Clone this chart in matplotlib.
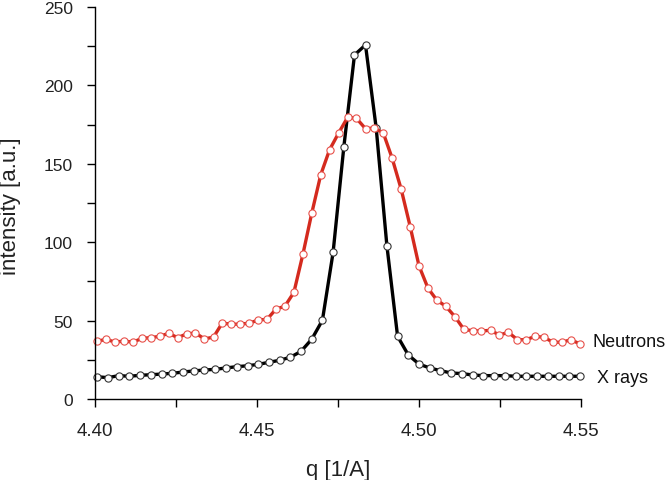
import matplotlib
matplotlib.use('Agg')
import matplotlib.pyplot as plt
from matplotlib.ticker import MultipleLocator

plt.rcParams['font.family'] = ['Liberation Sans', 'DejaVu Sans']

# X rays (black) data
q_xray = [4.4007, 4.4040, 4.4073, 4.4106, 4.4139, 4.4173, 4.4206, 4.4239, 4.4272, 4.4305,
          4.4338, 4.4371, 4.4404, 4.4437, 4.4471, 4.4504, 4.4537, 4.4570, 4.4603, 4.4636,
          4.4669, 4.4702, 4.4735, 4.4768, 4.4801, 4.4835, 4.4868, 4.4901, 4.4934, 4.4967,
          4.5000, 4.5033, 4.5066, 4.5099, 4.5133, 4.5166, 4.5199, 4.5232, 4.5265, 4.5298,
          4.5331, 4.5364, 4.5397, 4.5431, 4.5464, 4.5497]
i_xray = [14.2, 13.6, 14.9, 14.5, 15.1, 15.5, 15.9, 16.4, 17.2, 17.9,
          18.5, 18.9, 19.8, 20.6, 21.2, 22.1, 23.4, 24.7, 26.6, 30.4,
          38.1, 50.2, 93.5, 160.5, 219.4, 225.8, 172.8, 97.8, 40.0, 28.1,
          22.3, 19.8, 18.1, 16.6, 16.2, 15.3, 14.9, 14.9, 14.9, 14.5,
          14.5, 14.5, 14.5, 14.5, 14.5, 14.5]

# Neutrons (red) data
q_neut = [4.4007, 4.4035, 4.4062, 4.4090, 4.4117, 4.4145, 4.4173, 4.4200, 4.4228, 4.4255,
          4.4283, 4.4310, 4.4338, 4.4366, 4.4393, 4.4421, 4.4448, 4.4476, 4.4504, 4.4531,
          4.4559, 4.4586, 4.4614, 4.4642, 4.4669, 4.4697, 4.4724, 4.4752, 4.4780, 4.4807,
          4.4835, 4.4862, 4.4890, 4.4917, 4.4945, 4.4973, 4.5000, 4.5028, 4.5055, 4.5083,
          4.5111, 4.5138, 4.5166, 4.5193, 4.5221, 4.5248, 4.5276, 4.5304, 4.5331, 4.5359,
          4.5386, 4.5414, 4.5442, 4.5469, 4.5497]
i_neut = [36.8, 38.1, 36.2, 37.0, 36.2, 38.7, 39.1, 40.0, 41.9, 39.1,
          41.5, 42.1, 38.3, 39.5, 48.5, 47.6, 47.8, 48.3, 50.4, 50.8,
          57.4, 59.1, 68.0, 92.5, 118.4, 143.1, 158.9, 169.6, 179.7, 179.0,
          172.4, 172.8, 169.6, 153.7, 133.9, 109.9, 85.0, 70.6, 63.1, 59.1,
          52.5, 44.6, 43.4, 43.4, 43.8, 40.8, 42.5, 37.8, 37.8, 40.0,
          39.3, 36.2, 36.2, 37.8, 35.1]

fig = plt.figure(figsize=(6.66, 4.81), dpi=100)
ax = fig.add_axes([0.1426, 0.1684, 0.7297, 0.815])

ax.plot(q_xray, i_xray, color='black', lw=2.4, marker='o', ms=5.2,
        mfc='white', mec='#333333', mew=0.8, clip_on=False)
ax.plot(q_neut, i_neut, color='#d42a1e', lw=2.4, marker='o', ms=5.2,
        mfc='white', mec='#e8504a', mew=0.8, clip_on=False)

ax.set_xlim(4.40, 4.55)
ax.set_ylim(0, 250)
ax.set_xticks([4.40, 4.45, 4.50, 4.55])
ax.set_xticklabels(['4.40', '4.45', '4.50', '4.55'])
ax.xaxis.set_minor_locator(MultipleLocator(0.025))
ax.yaxis.set_major_locator(MultipleLocator(50))
ax.yaxis.set_minor_locator(MultipleLocator(25))

for s in ['top', 'right']:
    ax.spines[s].set_visible(False)
for s in ['left', 'bottom']:
    ax.spines[s].set_linewidth(1.0)

ax.tick_params(which='both', direction='out', length=5.5, width=1.0, colors='black',
               labelcolor='#222222')
ax.tick_params(axis='x', which='major', pad=11, labelsize=13.5)
ax.tick_params(axis='y', which='major', pad=10.5, labelsize=12.5)

ax.set_xlabel('q [1/A]', fontsize=16, color='#222222', va='top')
ax.set_ylabel('intensity [a.u.]', fontsize=16, color='#222222')
ax.xaxis.set_label_coords(0.5, -0.152)
ax.yaxis.set_label_coords(-0.152, 0.495)

ax.text(4.5535, 36.5, 'Neutrons', fontsize=13, color='#111111', va='center', ha='left')
ax.text(4.5550, 14, 'X rays', fontsize=13, color='#111111', va='center', ha='left')

fig.savefig('out.png', dpi=100)
